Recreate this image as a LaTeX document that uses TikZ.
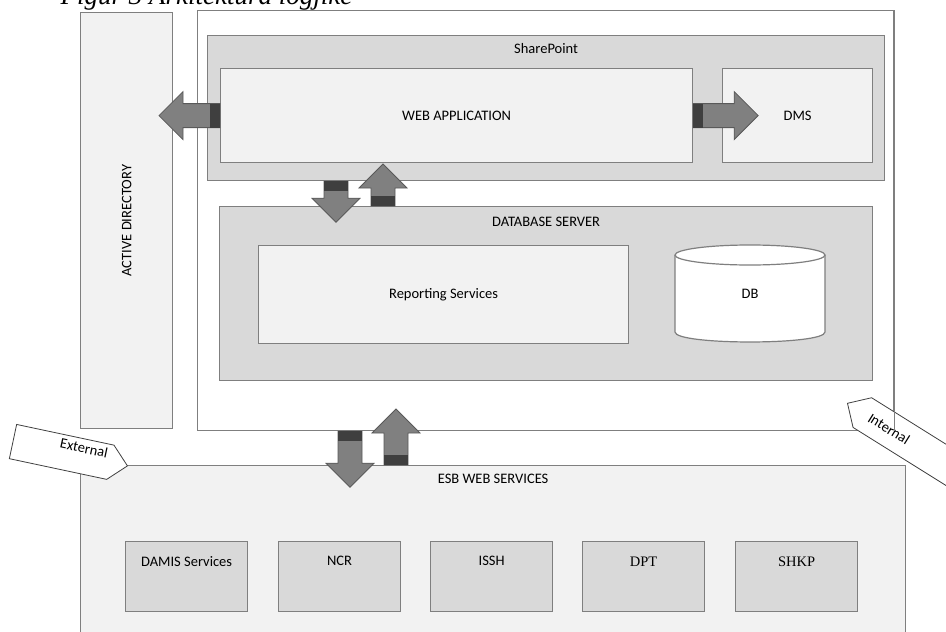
\documentclass[tikz,border=0pt]{standalone}
\usepackage{fontspec}
\setmainfont{Carlito}
\newfontfamily\capfont{Liberation Serif}
\usetikzlibrary{positioning,shapes.symbols}

\definecolor{panelpale}{HTML}{F2F2F2}
\definecolor{panelmid}{HTML}{D9D9D9}
\definecolor{edgegray}{HTML}{7F7F7F}
\definecolor{arrowgray}{HTML}{808080}
\definecolor{arrowedge}{HTML}{595959}
\definecolor{bandgray}{HTML}{3F3F3F}

% fat block arrow: tail point, direction, length
\newcommand{\fatarrow}[3]{%
  \begin{scope}[shift={#1}, rotate=#2]
    \draw[arrowedge, fill=arrowgray, line width=0.8pt]
      (0,-12) -- (#3-24,-12) -- (#3-24,-24) -- (#3,0) -- (#3-24,24) -- (#3-24,12) -- (0,12) -- cycle;
    \fill[bandgray] (0,-12) rectangle (10,12);
  \end{scope}}

\begin{document}
\begin{tikzpicture}[x=1pt, y=-1pt,
    font=\fontsize{14.5}{16}\selectfont,
    box/.style={draw=edgegray, line width=1.2pt, inner sep=0pt, anchor=north west},
    pale/.style={box, fill=panelpale},
    mid/.style={box, fill=panelmid},
    svc/.style={mid, minimum width=122, minimum height=70},
    tagshape/.style={signal, draw=black!75, fill=white, line width=0.8pt, minimum height=35}]
  \useasboundingbox (0,0) rectangle (946,632);

  % caption, cut off at the top
  \node[font=\capfont\itshape\fontsize{27}{30}\selectfont, anchor=base west] (caption) at (57,4) {Figur 3 Arkitektura logjike};

  % left column
  \node[pale, minimum width=92, minimum height=416] (ad) at (80,12) {};
  \node[rotate=90] (adlabel) at (ad.center) {ACTIVE DIRECTORY};

  % internal zone
  \node[box, fill=white, minimum width=696, minimum height=420] (internal) at (197,10) {};

  \node[mid, minimum width=677, minimum height=145] (sp) at (207,35) {};
  \node[below=5pt of sp.north] (splabel) {SharePoint};
  \node[pale, minimum width=472, minimum height=94] (webapp) at (220,68) {};
  \node (webapplabel) at (webapp.center) {WEB APPLICATION};
  \node[pale, minimum width=150, minimum height=94] (dms) at (722,68) {};
  \node (dmslabel) at (dms.center) {DMS};

  \node[mid, minimum width=653, minimum height=174] (dbs) at (219,206) {};
  \node[below=8pt of dbs.north] (dbslabel) {DATABASE SERVER};
  \node[pale, minimum width=370, minimum height=98] (rs) at (258,245) {};
  \node (rslabel) at (rs.center) {Reporting Services};

  % database cylinder
  \draw[edgegray, line width=1.2pt, fill=white]
    (675,255) -- (675,332) .. controls (675,345.3) and (825,345.3) .. (825,332) -- (825,255);
  \draw[edgegray, line width=1.2pt, fill=white] (750,255) ellipse [x radius=75, y radius=10];
  \node (db) at (750,294) {DB};

  % ESB services
  \node[pale, minimum width=825, minimum height=190] (esb) at (80,465) {};
  \node[below=6pt of esb.north] (esblabel) {ESB WEB SERVICES};
  \foreach \name/\lab/\xx in {damis/DAMIS Services/125, ncr/NCR/278, issh/ISSH/430, dpt/{\capfont DPT}/582, shkp/{\capfont SHKP}/735} {
    \node[svc] (\name) at (\xx,541) {};
    \node[below=12pt of \name.north] (\name label) {\lab};
  }

  % arrows between the parts
  \fatarrow{(webapp.west)}{180}{61}
  \fatarrow{(webapp.east)}{0}{65}
  \fatarrow{([xshift=129pt]sp.south west)}{-90}{41}
  \fatarrow{([xshift=164pt]dbs.north west)}{90}{42}
  \fatarrow{([xshift=153pt]internal.south west)}{-90}{56}
  \fatarrow{([xshift=316pt]esb.north west)}{90}{56}

  % zone tags
  \node[tagshape, signal to=east, rotate=-12, minimum width=117, anchor=east] (ext) at (128,466) {};
  \node[rotate=-12] (extlabel) at (84,448) {External};
  \node[tagshape, signal to=west, rotate=-32, minimum width=150, anchor=west] (int) at (847,403) {};
  \node[rotate=-32] (intlabel) at (889,429) {Internal};
  \draw[edgegray, line width=1.2pt] (internal.north east) -- (internal.south east);
\end{tikzpicture}
\end{document}
